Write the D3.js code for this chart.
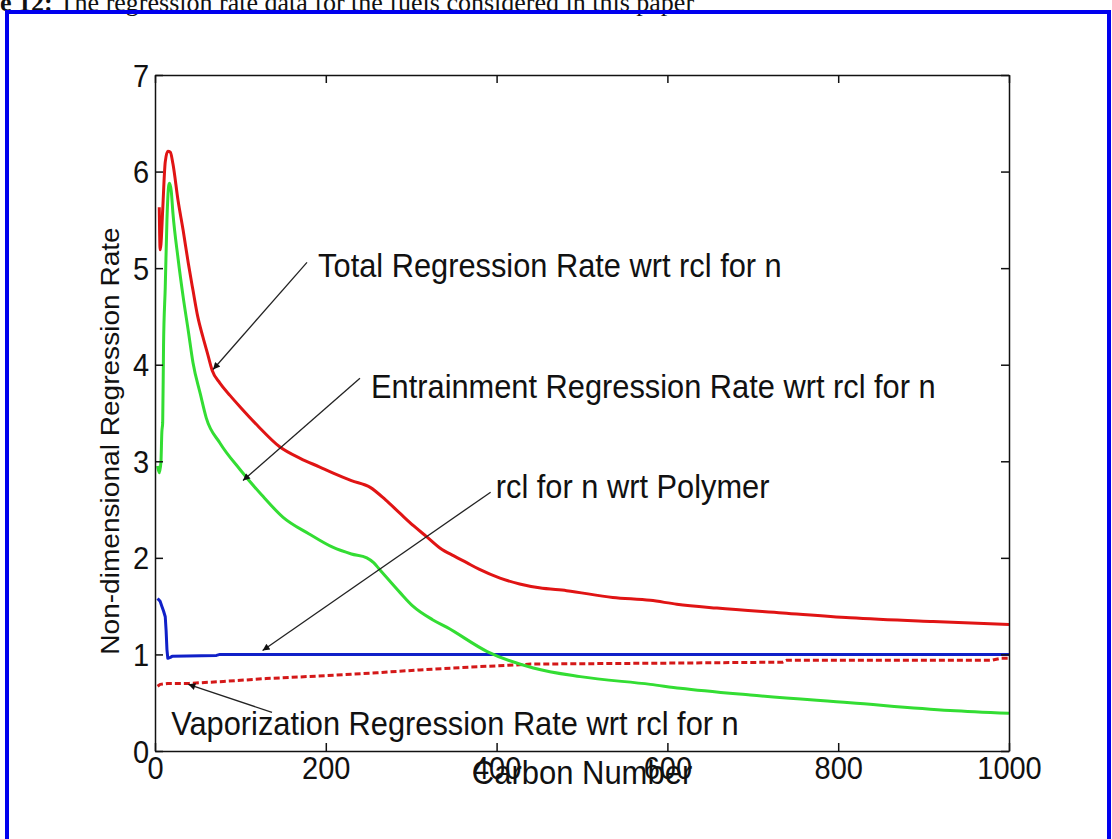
<!DOCTYPE html>
<html>
<head>
<meta charset="utf-8">
<script src="https://cdn.jsdelivr.net/npm/d3@7"></script>
<style>
  body { margin: 0; background: #fff; }
  text { font-family: "Liberation Sans", Arial, sans-serif; fill: #111; }
  .cap { font-family: "Liberation Serif", "Times New Roman", serif; }
</style>
</head>
<body>
<div id="chart"></div>
<script>

// carbon number / rate pairs
var totalN    = [5, 6, 7, 9, 12, 15, 18, 21, 27, 33, 39, 44.5, 50, 56, 62, 67, 76, 88, 100, 120, 146, 170, 193, 208, 230, 252, 270, 287, 303, 318, 334, 350, 365, 380, 404, 427, 450, 482, 536, 580, 611, 658, 735, 814, 911, 1000];
var totalRate = [5.63, 5.19, 5.25, 5.6, 6.1, 6.21, 6.2, 6.08, 5.7, 5.39, 5.05, 4.77, 4.5, 4.29, 4.1, 3.94, 3.81, 3.68, 3.56, 3.37, 3.15, 3.03, 2.94, 2.88, 2.8, 2.73, 2.6, 2.46, 2.33, 2.22, 2.1, 2.02, 1.95, 1.88, 1.79, 1.73, 1.69, 1.66, 1.59, 1.56, 1.52, 1.48, 1.43, 1.38, 1.34, 1.31];

var entrN    = [3, 5, 7, 8, 9, 10, 12, 14, 16, 17, 19, 21, 27, 33, 39, 44.5, 53, 60, 76, 100, 125, 150, 180, 208, 230, 248, 256, 263, 287, 302, 325, 342, 389, 443, 498, 580, 615, 697, 814, 931, 1000];
var entrRate = [2.95, 2.88, 3.0, 3.3, 3.4, 4.2, 4.8, 5.5, 5.85, 5.88, 5.8, 5.57, 5.1, 4.7, 4.35, 4.02, 3.7, 3.45, 3.19, 2.91, 2.65, 2.42, 2.25, 2.11, 2.04, 2.0, 1.95, 1.88, 1.64, 1.5, 1.36, 1.28, 1.03, 0.86, 0.77, 0.69, 0.65, 0.58, 0.5, 0.42, 0.39];

var polyN    = [3, 6, 8, 10, 12, 13, 14, 15, 18, 20, 72, 76, 1000];
var polyRate = [1.58, 1.55, 1.5, 1.45, 1.39, 1.25, 1.05, 0.96, 0.97, 0.98, 0.99, 1.0, 1.0];

var vapN    = [3, 6, 15, 40, 80, 130, 200, 260, 310, 370, 420, 440, 600, 735, 740, 980, 990, 1000];
var vapRate = [0.67, 0.69, 0.7, 0.7, 0.72, 0.75, 0.78, 0.81, 0.84, 0.87, 0.89, 0.9, 0.91, 0.92, 0.94, 0.94, 0.96, 0.96];

var xTicks = [0, 200, 400, 600, 800, 1000];
var yTicks = [0, 1, 2, 3, 4, 5, 6, 7];

// annotation text and arrows, in data units
var noteText = ["Total Regression Rate wrt rcl for n",
                "Entrainment Regression Rate wrt rcl for n",
                "rcl for n wrt Polymer",
                "Vaporization Regression Rate wrt rcl for n"];
var noteAt   = [[191, 4.91], [253, 3.66], [399, 2.62], [19, 0.17]];
var arrowFrom = [[178, 5.06], [240, 3.86], [393, 2.68], [137, 0.40]];
var arrowTo   = [[68, 3.95], [103, 2.80], [126, 1.04], [39, 0.69]];

var width = 1112, height = 839;
var plotL = 155, plotR = 1009, plotT = 75, plotB = 751;

var svg = d3.select("#chart").append("svg")
    .attr("width", width)
    .attr("height", height);

svg.append("defs").append("marker")
    .attr("id", "head")
    .attr("viewBox", "0 0 10 10")
    .attr("refX", 10).attr("refY", 5)
    .attr("markerWidth", 11).attr("markerHeight", 7)
    .attr("markerUnits", "userSpaceOnUse")
    .attr("orient", "auto")
  .append("path")
    .attr("d", "M0,0 L10,5 L0,10 z")
    .style("fill", "#111");

// caption cut off at the top and the blue frame
svg.append("text").attr("class", "cap")
    .attr("x", 0).attr("y", 11)
    .style("font-size", "26px")
    .html('<tspan font-weight="bold">e 12:</tspan> The regression rate data for the fuels considered in this paper');

svg.append("rect")
    .attr("x", 7).attr("y", 12)
    .attr("width", 1102).attr("height", 835)
    .style("fill", "none")
    .style("stroke", "#0000ee")
    .style("stroke-width", 4);

var x = d3.scaleLinear().domain([0, 1000]).range([plotL, plotR]);
var y = d3.scaleLinear().domain([0, 7]).range([plotB, plotT]);

function pairs(a, b) {
  return a.map(function(v, i) { return [v, b[i]]; });
}

var series = [
  {n: vapN,   r: vapRate,   color: "#d41818", dash: "6,3", curve: d3.curveLinear},
  {n: polyN,  r: polyRate,  color: "#1020c8", dash: null,  curve: d3.curveLinear},
  {n: entrN,  r: entrRate,  color: "#33dd33", dash: null,  curve: d3.curveMonotoneX},
  {n: totalN, r: totalRate, color: "#e01414", dash: null,  curve: d3.curveMonotoneX}
];

svg.selectAll(".curve")
    .data(series)
    .enter().append("path")
      .attr("class", "curve")
      .attr("d", function(d) {
        return d3.line()
            .x(function(p) { return x(p[0]); })
            .y(function(p) { return y(p[1]); })
            .curve(d.curve)(pairs(d.n, d.r));
      })
      .style("fill", "none")
      .style("stroke", function(d) { return d.color; })
      .style("stroke-width", 3)
      .style("stroke-linejoin", "round")
      .style("stroke-dasharray", function(d) { return d.dash; });

// axes, ticks pointing inward on all four sides
var xAxis = svg.append("g")
    .attr("transform", "translate(0," + plotB + ")")
    .call(d3.axisBottom(x).tickValues(xTicks).tickFormat(d3.format("d")).tickSize(-8).tickSizeOuter(0));
svg.append("g")
    .attr("transform", "translate(0," + plotT + ")")
    .call(d3.axisTop(x).tickValues(xTicks).tickSize(-8).tickFormat("").tickSizeOuter(0));
var yAxis = svg.append("g")
    .attr("transform", "translate(" + plotL + ",0)")
    .call(d3.axisLeft(y).tickValues(yTicks).tickFormat(d3.format("d")).tickSize(-8).tickPadding(6).tickSizeOuter(0));
svg.append("g")
    .attr("transform", "translate(" + plotR + ",0)")
    .call(d3.axisRight(y).tickValues(yTicks).tickSize(-8).tickFormat("").tickSizeOuter(0));

svg.selectAll(".domain, .tick line")
    .style("stroke", "#111")
    .style("stroke-width", 1.5);

// the original figure is slightly stretched vertically
var sx = 1.08;
xAxis.selectAll("text")
    .style("font-size", "29px")
    .attr("dy", null)
    .attr("y", 28 / sx)
    .attr("transform", "scale(1," + sx + ")");
yAxis.selectAll("text")
    .style("font-size", "29px")
    .attr("dy", null)
    .attr("y", 11 / sx)
    .attr("transform", "scale(1," + sx + ")");

svg.append("text")
    .attr("transform", "translate(582,784) scale(1,1.08)")
    .style("text-anchor", "middle")
    .style("font-size", "31px")
    .text("Carbon Number");

svg.append("text")
    .attr("transform", "translate(119,441) rotate(-90) scale(1.08,1)")
    .style("text-anchor", "middle")
    .style("font-size", "26px")
    .text("Non-dimensional Regression Rate");

// annotations
svg.selectAll(".arrow")
    .data(arrowFrom)
    .enter().append("line")
      .attr("class", "arrow")
      .attr("x1", function(d) { return x(d[0]); })
      .attr("y1", function(d) { return y(d[1]); })
      .attr("x2", function(d, i) { return x(arrowTo[i][0]); })
      .attr("y2", function(d, i) { return y(arrowTo[i][1]); })
      .style("stroke", "#222")
      .style("stroke-width", 1.3)
      .attr("marker-end", "url(#head)");

svg.selectAll(".note")
    .data(noteText)
    .enter().append("text")
      .attr("class", "note")
      .attr("transform", function(d, i) {
        return "translate(" + x(noteAt[i][0]) + "," + y(noteAt[i][1]) + ") scale(1,1.05)";
      })
      .style("font-size", "30.8px")
      .text(function(d) { return d; });

</script>
</body>
</html>
